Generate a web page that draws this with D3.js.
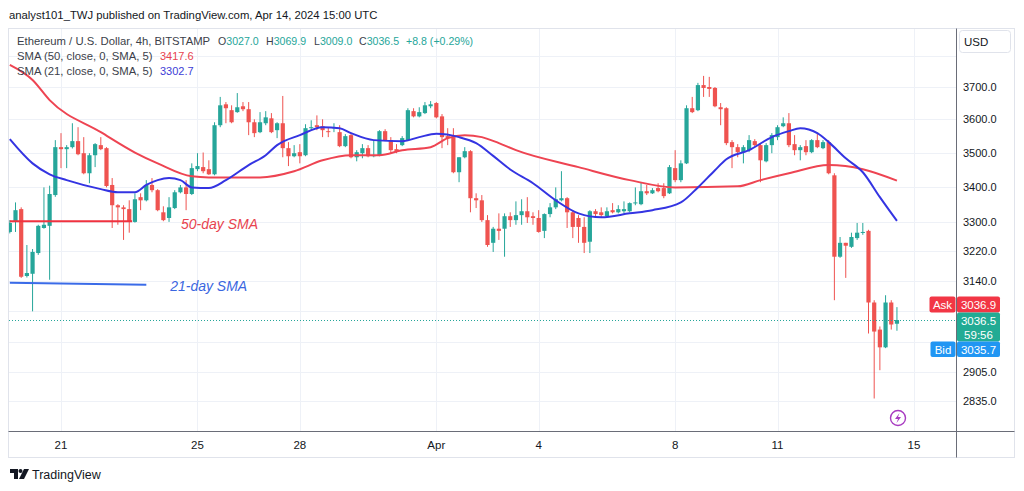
<!DOCTYPE html>
<html><head><meta charset="utf-8">
<script src="https://cdn.jsdelivr.net/npm/d3@7"></script>
<style>
body{margin:0;background:#fff}
svg{display:block}
text{font-family:"Liberation Sans",Arial,sans-serif}
</style>
</head><body>
<svg id="c" width="1024" height="491"></svg>
<script>
// ---------- DATA ----------
const firstCandle = "2024-03-19T12:00:00Z"; // 4h candles, ETH/USD Bitstamp
const opens = [
3272,3300,3336,3152,3158,3214,3283,3289,3376,3516,
3510,3516,3534,3498,3439,3492,3522,3513,3405,3347,
3341,3336,3300,3370,3361,3405,3390,3327,3311,3339,
3384,3398,3379,3451,3457,3451,3436,3582,3646,3628,
3622,3640,3631,3591,3561,3588,3603,3567,3588,3513,
3489,3501,3492,3573,3582,3579,3564,3573,3561,3519,
3552,3486,3498,3513,3489,3492,3564,3537,3510,3522,
3537,3625,3609,3619,3640,3650,3609,3549,3546,3442,
3486,3504,3367,3361,3305,3242,3281,3281,3316,3305,
3319,3330,3316,3311,3275,3322,3341,3361,3367,3327,
3311,3286,3245,3330,3327,3316,3333,3327,3330,3330,
3353,3350,3387,3381,3396,3396,3381,3454,3419,3468,
3634,3628,3706,3700,3697,3637,3634,3531,3516,3501,
3507,3534,3522,3474,3522,3546,3579,3588,3525,3507,
3519,3501,3537,3513,3531,3433,3204,3242,3231,3255,
3270,3275,3082,3012,2967,3082,3027];
const highs = [
3305,3355,3341,3236,3225,3292,3398,3403,3537,3558,
3522,3588,3576,3546,3498,3528,3546,3516,3425,3350,
3347,3361,3381,3381,3419,3425,3393,3344,3370,3390,
3405,3419,3468,3498,3500,3477,3591,3669,3653,3643,
3681,3653,3653,3600,3622,3625,3619,3591,3672,3531,
3522,3525,3585,3597,3612,3600,3576,3588,3582,3555,
3558,3507,3525,3522,3537,3567,3570,3546,3525,3549,
3634,3634,3637,3653,3656,3653,3616,3573,3573,3486,
3516,3507,3381,3376,3319,3286,3324,3324,3327,3358,
3364,3370,3327,3333,3324,3353,3398,3445,3370,3333,
3319,3313,3333,3336,3341,3341,3353,3347,3358,3355,
3398,3413,3405,3396,3410,3410,3463,3507,3477,3643,
3669,3713,3735,3732,3700,3650,3637,3537,3525,3522,
3552,3540,3525,3528,3558,3582,3606,3619,3552,3522,
3537,3540,3558,3537,3537,3439,3258,3242,3270,3297,
3297,3278,3088,3020,3101,3088,3069.9];
const lows = [
3268,3272,3147,3148,3059,3209,3281,3142,3371,3454,
3454,3512,3492,3436,3410,3457,3507,3398,3283,3292,
3250,3270,3298,3333,3358,3384,3330,3302,3300,3336,
3381,3333,3376,3445,3439,3434,3433,3576,3588,3588,
3620,3625,3552,3546,3558,3582,3558,3543,3486,3460,
3486,3468,3489,3567,3567,3546,3546,3561,3516,3516,
3483,3474,3483,3486,3486,3489,3534,3498,3498,3519,
3534,3606,3606,3616,3634,3603,3513,3522,3439,3413,
3483,3327,3339,3300,3231,3217,3250,3204,3286,3292,
3292,3297,3292,3270,3255,3313,3336,3358,3283,3255,
3242,3214,3214,3313,3313,3313,3324,3324,3324,3327,
3347,3347,3376,3379,3384,3367,3379,3413,3413,3466,
3619,3625,3669,3669,3637,3582,3522,3454,3486,3468,
3501,3519,3413,3471,3498,3537,3576,3516,3492,3477,
3492,3498,3513,3510,3436,3088,3201,3147,3228,3250,
3264,3002,2841,2910,2965,3012,3009];
const closes = [
3297,3333,3150,3160,3217,3289,3292,3379,3516,3510,
3516,3534,3495,3439,3492,3525,3510,3402,3347,3341,
3336,3302,3364,3361,3405,3390,3333,3305,3341,3384,
3398,3379,3454,3460,3445,3436,3582,3643,3634,3591,
3637,3631,3591,3558,3591,3606,3561,3588,3513,3489,
3498,3489,3573,3576,3576,3567,3561,3576,3519,3549,
3486,3501,3513,3489,3492,3564,3537,3507,3504,3543,
3628,3609,3622,3643,3646,3606,3546,3543,3442,3486,
3504,3367,3361,3305,3236,3281,3275,3316,3305,3319,
3330,3313,3311,3272,3322,3341,3364,3367,3327,3286,
3286,3242,3330,3322,3319,3330,3327,3336,3336,3353,
3355,3387,3381,3390,3387,3373,3457,3419,3468,3634,
3622,3706,3697,3694,3640,3631,3528,3516,3501,3516,
3537,3522,3477,3522,3552,3576,3588,3522,3507,3516,
3501,3537,3516,3531,3439,3204,3242,3234,3258,3270,
3272,3082,3007,2967,3082,3025,3036.5];

// SMA lines: [candle index, value]
const sma50 = [[0,3770],[4,3722],[7,3659],[16,3561],[22,3500],[26,3468],[32,3430],[35,3427],
  [44,3427],[50,3445],[55,3477],[60,3492],[65,3492],[69,3507],[74,3516],[77,3543],[80,3552],
  [83,3546],[86,3528],[89,3507],[100,3457],[109,3419],[117,3398],[128,3401],[132,3419],
  [137,3439],[144,3463],[150,3451],[156,3417.6]];
const sma21 = [[0,3540],[4,3468],[7,3436],[10,3419],[16,3393],[19,3384],[22,3384],[24,3405],
  [26,3419],[28,3425],[30,3419],[32,3398],[35,3396],[38,3419],[42,3463],[45,3492],[47,3522],
  [51,3552],[55,3576],[58,3573],[60,3558],[64,3537],[69,3534],[72,3546],[75,3556],[79,3546],
  [82,3528],[85,3490],[88,3450],[92,3410],[96,3361],[100,3324],[104,3313],[109,3324],
  [113,3333],[118,3355],[121,3398],[124,3448],[126,3480],[130,3507],[134,3546],[137,3564],
  [139,3573],[142,3558],[144,3531],[147,3483],[150,3442],[153,3370],[156,3302.7]];

// drawn annotations: [candle index, price]
const annot50Line = [[0,3302],[21.5,3302]];
const annot21Line = [[0,3134],[24,3129]];
const annotTexts = [
  {text:"50-day SMA", i:30.1, p:3279, color:"#e8434f"},
  {text:"21-day SMA", i:28.2, p:3113, color:"#3a66e0"}];

const yTickValues = [3800,3700,3600,3500,3400,3300,3220,3140,3060,2980,2905,2835];
const yTickLabels = ["","3700.0","3600.0","3500.0","3400.0","3300.0","3220.0","3140.0","","","2905.0","2835.0"];
const xTickDates = ["2024-03-21","2024-03-25","2024-03-28","2024-04-01","2024-04-04","2024-04-08","2024-04-11","2024-04-15"];
const xTickLabels = ["21","25","28","Apr","4","8","11","15"];

const askPrice = 3036.9, bidPrice = 3035.7, lastPrice = 3036.5, countdown = "59:56";
const change = "+8.8 (+0.29%)";

// ---------- DRAW ----------
const svg = d3.select("#c");
const P = {left:9, right:956, top:29, bottom:431};
const UP = "#26a69a", DOWN = "#ef5350";
const t0 = new Date(firstCandle).getTime();
const tOf = i => new Date(t0 + i*4*3600*1000);

const x = d3.scaleTime()
  .domain([new Date("2024-03-21T00:00:00Z"), new Date("2024-04-15T00:00:00Z")])
  .range([61, 914]);
const y = d3.scaleLog().domain([2835, 3700]).range([401, 87]);

svg.append("rect").attr("width",1024).attr("height",491).attr("fill","#fff");

// title
svg.append("text").attr("x",9).attr("y",19).attr("font-size",11.3).attr("fill","#131722")
  .text("analyst101_TWJ published on TradingView.com, Apr 14, 2024 15:00 UTC");

// panel border
svg.append("rect").attr("x",8.5).attr("y",28.5).attr("width",1006).attr("height",429)
  .attr("fill","none").attr("stroke","#e0e3eb");

const defs = svg.append("defs");
defs.append("clipPath").attr("id","plotclip").append("rect")
  .attr("x",P.left).attr("y",P.top).attr("width",P.right-P.left).attr("height",P.bottom-P.top);

// grid
const grid = svg.append("g");
grid.selectAll(".hg").data(yTickValues).join("line")
  .attr("x1",P.left).attr("x2",P.right)
  .attr("y1",d=>Math.round(y(d))+0.5).attr("y2",d=>Math.round(y(d))+0.5)
  .attr("stroke","#eef1f7");
grid.selectAll(".vg").data(xTickDates).join("line")
  .attr("y1",P.top).attr("y2",P.bottom)
  .attr("x1",d=>Math.round(x(new Date(d+"T00:00:00Z")))+0.5)
  .attr("x2",d=>Math.round(x(new Date(d+"T00:00:00Z")))+0.5)
  .attr("stroke","#eef1f7");

const plot = svg.append("g").attr("clip-path","url(#plotclip)");

// candles
const idx = d3.range(closes.length);
const cg = plot.append("g");
cg.selectAll(".w").data(idx).join("line")
  .attr("x1",i=>x(tOf(i))).attr("x2",i=>x(tOf(i)))
  .attr("y1",i=>y(highs[i])).attr("y2",i=>y(lows[i]))
  .attr("stroke",i=>closes[i]>=opens[i]?UP:DOWN).attr("stroke-width",1);
cg.selectAll(".b").data(idx).join("rect")
  .attr("x",i=>x(tOf(i))-2.1).attr("width",4.2)
  .attr("y",i=>y(Math.max(opens[i],closes[i])))
  .attr("height",i=>Math.max(1,Math.abs(y(opens[i])-y(closes[i]))))
  .attr("fill",i=>closes[i]>=opens[i]?UP:DOWN);

// SMA lines
const line = d3.line().x(d=>x(tOf(d[0]))).y(d=>y(d[1])).curve(d3.curveMonotoneX);
plot.append("path").datum(sma50).attr("d",line).attr("fill","none")
  .attr("stroke","#ee4452").attr("stroke-width",2);
plot.append("path").datum(sma21).attr("d",line).attr("fill","none")
  .attr("stroke","#3434e2").attr("stroke-width",2);

// annotation lines & text
const aline = d3.line().x(d=>x(tOf(d[0]))).y(d=>y(d[1]));
plot.append("path").datum(annot50Line).attr("d",aline).attr("stroke","#f0323f").attr("stroke-width",2);
plot.append("path").datum(annot21Line).attr("d",aline).attr("stroke","#3a6be8").attr("stroke-width",2);
svg.selectAll(".at").data(annotTexts).join("text")
  .attr("x",d=>x(tOf(d.i))).attr("y",d=>y(d.p))
  .attr("font-size",14).attr("font-style","italic").attr("fill",d=>d.color).text(d=>d.text);

// last price dotted line
plot.append("line").attr("x1",P.left).attr("x2",P.right)
  .attr("y1",Math.round(y(lastPrice))+0.5).attr("y2",Math.round(y(lastPrice))+0.5)
  .attr("stroke",UP).attr("stroke-dasharray","1,2");

// axes lines
svg.append("line").attr("x1",956.5).attr("x2",956.5).attr("y1",28.5).attr("y2",457.5).attr("stroke","#6a6d78");
svg.append("line").attr("x1",8.5).attr("x2",1014.5).attr("y1",431.5).attr("y2",431.5).attr("stroke","#6a6d78");

// y labels
svg.selectAll(".yl").data(yTickValues.map((v,k)=>({v,l:yTickLabels[k]})).filter(d=>d.l)).join("text")
  .attr("x",963).attr("y",d=>y(d.v)+4).attr("font-size",11).attr("fill","#131722").text(d=>d.l);

// x labels
svg.selectAll(".xl").data(xTickDates.map((d,k)=>({d,l:xTickLabels[k]}))).join("text")
  .attr("x",d=>x(new Date(d.d+"T00:00:00Z"))).attr("y",449).attr("text-anchor","middle")
  .attr("font-size",11.5).attr("fill","#131722").text(d=>d.l);

// USD box
svg.append("rect").attr("x",959.5).attr("y",30.5).attr("width",51).attr("height",22).attr("rx",3)
  .attr("fill","#fff").attr("stroke","#e0e3eb");
svg.append("text").attr("x",964).attr("y",46).attr("font-size",11.5).attr("fill","#131722").text("USD");

// price tags
const yc = y(lastPrice);
function tag(x0,y0,w,h,fill,lines){
  svg.append("rect").attr("x",x0).attr("y",y0).attr("width",w).attr("height",h).attr("rx",2).attr("fill",fill);
  lines.forEach((t,k)=>svg.append("text").attr("x",x0+w/2).attr("y",y0+12+k*14.5)
    .attr("text-anchor","middle").attr("font-size",11.5).attr("fill","#fff").text(t));
}
tag(929.5, yc-23.5, 26, 16, "#f23645", ["Ask"]);
tag(957, yc-23.5, 43, 16, "#f23645", [askPrice.toFixed(1)]);
tag(957, yc-7.5, 43, 29, "#22ab94", [lastPrice.toFixed(1), countdown]);
tag(930.5, yc+21.5, 25, 15.5, "#2196f3", ["Bid"]);
tag(957, yc+21.5, 43, 15.5, "#2196f3", [bidPrice.toFixed(1)]);

// legend
const lg = svg.append("g").attr("font-size",10.6);
lg.append("text").attr("x",17).attr("y",45).attr("font-size",11.3).attr("fill","#3c3f4a").text("Ethereum / U.S. Dollar, 4h, BITSTAMP");
const ohlc = [["O",opens],["H",highs],["L",lows],["C",closes]];
const ohlcX = [218,266,314,359];
const last = closes.length-1;
ohlc.forEach(([k,arr],j)=>{
  const t = lg.append("text").attr("x",ohlcX[j]).attr("y",45);
  t.append("tspan").attr("fill","#3c3f4a").text(k);
  t.append("tspan").attr("fill","#26a69a").text(arr[last].toFixed(1));
});
lg.append("text").attr("x",406).attr("y",45).attr("fill","#26a69a").text(change);
lg.append("text").attr("x",17).attr("y",60).attr("font-size",11.3).attr("fill","#3c3f4a").text("SMA (50, close, 0, SMA, 5)");
lg.append("text").attr("x",160).attr("y",60).attr("font-size",11).attr("fill","#e8434f").text(sma50[sma50.length-1][1].toFixed(1));
lg.append("text").attr("x",17).attr("y",75).attr("font-size",11.3).attr("fill","#3c3f4a").text("SMA (21, close, 0, SMA, 5)");
lg.append("text").attr("x",160).attr("y",75).attr("font-size",11).attr("fill","#3d3dd6").text(sma21[sma21.length-1][1].toFixed(1));

// lightning icon
const ic = svg.append("g").attr("transform","translate(898,418)");
ic.append("circle").attr("r",7.5).attr("fill","#fff").attr("stroke","#a83bc1").attr("stroke-width",1.4);
ic.append("path").attr("d","M1.5,-5 L-3,1 L0,1 L-1.5,5 L3,-1 L0,-1 Z").attr("fill","#a83bc1");

// TradingView logo
const lo = svg.append("g").attr("transform","translate(10,469)").attr("fill","#131722");
lo.append("path").attr("d","M0,0 H8 V10 H4 V4 H0 Z");
lo.append("circle").attr("cx",10.5).attr("cy",2).attr("r",2);
lo.append("path").attr("d","M14,0 H19 L14,10 H9 Z");
svg.append("text").attr("x",32).attr("y",479).attr("font-size",12.5).attr("fill","#131722").text("TradingView");
</script>
</body></html>
